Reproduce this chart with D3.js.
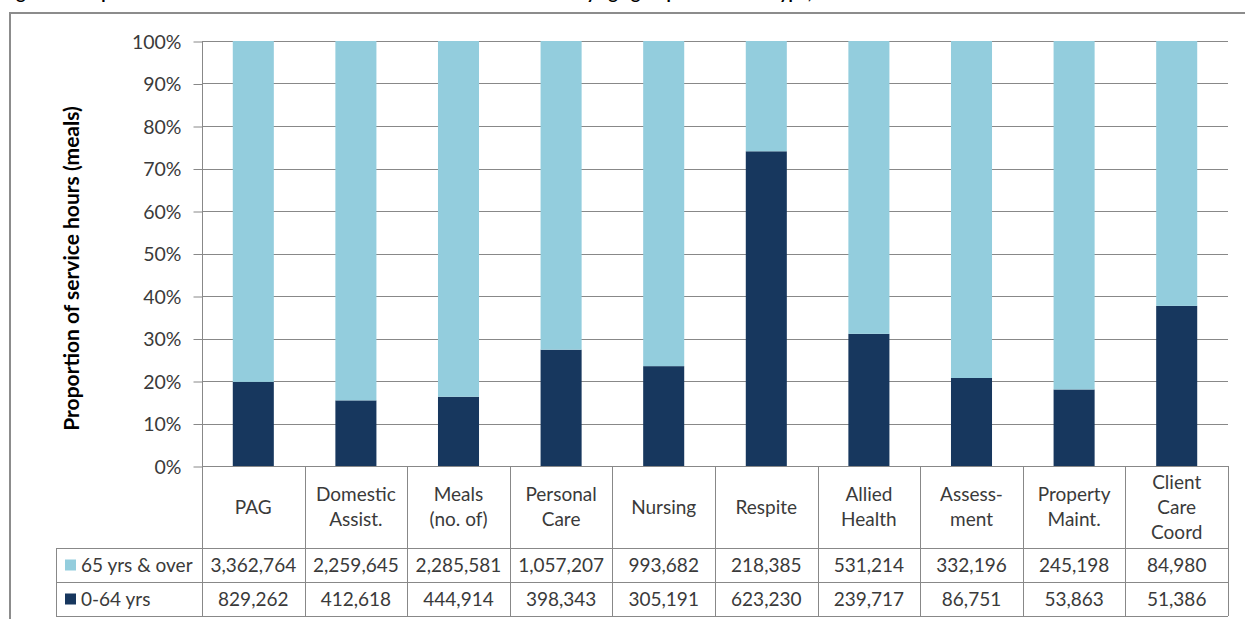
<!DOCTYPE html>
<html>
<head>
<meta charset="utf-8">
<script src="https://cdn.jsdelivr.net/npm/d3@7"></script>
<style>
  html, body { margin: 0; padding: 0; background: #fff; }
  svg { display: block; font-family: Lato, "Open Sans", sans-serif; }
</style>
</head>
<body>
<svg id="chart" width="1245" height="619"></svg>
<script>
// Service types (table header lines)
const categories = [
  ["PAG"],
  ["Domestic", "Assist."],
  ["Meals", "(no. of)"],
  ["Personal", "Care"],
  ["Nursing"],
  ["Respite"],
  ["Allied", "Health"],
  ["Assess-", "ment"],
  ["Property", "Maint."],
  ["Client", "Care", "Coord"]
];
const seriesNames = ["65 yrs & over", "0-64 yrs"];
const over65 = [3362764, 2259645, 2285581, 1057207, 993682, 218385, 531214, 332196, 245198, 84980];
const under65 = [829262, 412618, 444914, 398343, 305191, 623230, 239717, 86751, 53863, 51386];
const yTicks = [0, 0.1, 0.2, 0.3, 0.4, 0.5, 0.6, 0.7, 0.8, 0.9, 1];

const colors = { over: "#93CDDD", under: "#17375E" };
const gridColor = "#888888";
const textColor = "#3a3a3a";

const svg = d3.select("#chart");

// chart title (runs off the top edge of the page)
svg.append("text")
  .attr("x", 2).attr("y", -1)
  .attr("font-weight", "bold").attr("font-size", 17.5).attr("fill", "#000")
  .text("Figure 5: Proportion of HACC service hours and meals delivered to clients by age group and service type, 2010-11");

// outer frame
svg.append("path")
  .attr("d", "M10,619 V13 H1245")
  .attr("fill", "none").attr("stroke", "#8c8c8c").attr("stroke-width", 2);

const plotLeft = 202, plotRight = 1228, plotTop = 41, plotBottom = 466;
const x = d3.scaleBand().domain(d3.range(categories.length)).range([plotLeft, plotRight]).paddingInner(0).paddingOuter(0);
const y = d3.scaleLinear().domain([0, 1]).range([plotBottom, plotTop]);

// gridlines
svg.append("g").selectAll("line").data(yTicks).join("line")
  .attr("x1", plotLeft).attr("x2", plotRight)
  .attr("y1", d => Math.round(y(d)) + 0.5).attr("y2", d => Math.round(y(d)) + 0.5)
  .attr("stroke", gridColor).attr("stroke-width", 1);

// y axis
const yAxis = d3.axisLeft(y).tickValues(yTicks).tickFormat(d3.format(".0%")).tickSize(9).tickPadding(12);
const ya = svg.append("g").attr("transform", `translate(${plotLeft + 0.5},0.5)`).call(yAxis);
ya.select(".domain").attr("stroke", gridColor).attr("d", `M0,${plotTop}V${plotBottom}`);
ya.selectAll(".tick line").attr("stroke", gridColor);
ya.selectAll(".tick text").attr("font-size", 19.5).attr("fill", textColor)
  .attr("font-family", "Lato, 'Open Sans', sans-serif").attr("dy", "0.34em");

// y axis title
svg.append("text")
  .attr("transform", `translate(79,${(plotTop + plotBottom) / 2 + 15}) rotate(-90)`)
  .attr("text-anchor", "middle").attr("font-weight", "bold").attr("font-size", 21).attr("fill", "#000")
  .text("Proportion of service hours (meals)");

// stacked 100% bars
const rows = categories.map((c, i) => {
  const total = over65[i] + under65[i];
  return { i, under: under65[i] / total, over: over65[i] / total };
});
const bw = x.bandwidth() * 0.4;
const bars = svg.append("g");
bars.selectAll("rect.under").data(rows).join("rect").attr("class", "under")
  .attr("x", d => x(d.i) + (x.bandwidth() - bw) / 2).attr("width", bw)
  .attr("y", d => y(d.under)).attr("height", d => y(0) - y(d.under))
  .attr("fill", colors.under);
bars.selectAll("rect.over").data(rows).join("rect").attr("class", "over")
  .attr("x", d => x(d.i) + (x.bandwidth() - bw) / 2).attr("width", bw)
  .attr("y", d => y(1)).attr("height", d => y(d.under) - y(1))
  .attr("fill", colors.over);

// data table
const tableLeft = 56, hdrBottom = 548, row1Bottom = 582, row2Bottom = 616;
const tbl = svg.append("g").attr("stroke", gridColor).attr("stroke-width", 1).attr("fill", "none");
const hLines = [
  [plotLeft, plotRight, plotBottom], [tableLeft, plotRight, hdrBottom],
  [tableLeft, plotRight, row1Bottom], [tableLeft, plotRight, row2Bottom]
];
tbl.selectAll("line.h").data(hLines).join("line").attr("class", "h")
  .attr("x1", d => d[0]).attr("x2", d => d[1])
  .attr("y1", d => d[2] + 0.5).attr("y2", d => d[2] + 0.5);
const colEdges = d3.range(categories.length + 1).map(i => i < categories.length ? x(i) : plotRight);
tbl.selectAll("line.v").data(colEdges).join("line").attr("class", "v")
  .attr("x1", d => Math.round(d) + 0.5).attr("x2", d => Math.round(d) + 0.5)
  .attr("y1", plotBottom).attr("y2", row2Bottom);
tbl.append("line").attr("x1", tableLeft + 0.5).attr("x2", tableLeft + 0.5).attr("y1", hdrBottom).attr("y2", row2Bottom);

// header labels
const lineH = 25;
const hdr = svg.append("g").attr("font-size", 19).attr("fill", textColor).attr("text-anchor", "middle");
categories.forEach((lines, i) => {
  const cy = (plotBottom + hdrBottom) / 2;
  const t = hdr.append("text").attr("x", x(i) + x.bandwidth() / 2);
  lines.forEach((ln, k) => {
    t.append("tspan").attr("x", x(i) + x.bandwidth() / 2)
      .attr("y", cy + (k - (lines.length - 1) / 2) * lineH)
      .attr("dy", "0.36em").text(ln);
  });
});

// value rows
const fmt = d3.format(",");
const rowSpecs = [
  { name: seriesNames[0], vals: over65, color: colors.over, y0: hdrBottom, y1: row1Bottom },
  { name: seriesNames[1], vals: under65, color: colors.under, y0: row1Bottom, y1: row2Bottom }
];
const body = svg.append("g").attr("font-size", 19).attr("fill", textColor);
rowSpecs.forEach(r => {
  const cy = (r.y0 + r.y1) / 2;
  body.append("rect").attr("x", 65).attr("y", cy - 5.5).attr("width", 11).attr("height", 11).attr("fill", r.color);
  body.append("text").attr("x", 81).attr("y", cy).attr("dy", "0.36em").text(r.name);
  body.selectAll(null).data(r.vals).join("text")
    .attr("x", (d, i) => x(i) + x.bandwidth() / 2).attr("y", cy).attr("dy", "0.36em")
    .attr("text-anchor", "middle").text(d => fmt(d));
});
</script>
</body>
</html>
